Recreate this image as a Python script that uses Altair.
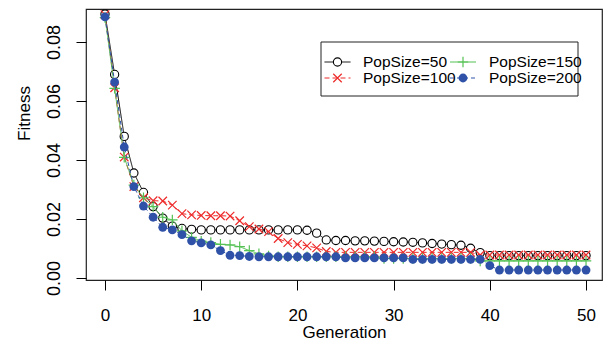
import altair as alt
import pandas as pd

# ---------------- data ----------------
generations = list(range(51))

series_names = ["PopSize=50", "PopSize=100", "PopSize=150", "PopSize=200"]

pop50 = [0.0895, 0.069, 0.048, 0.0356, 0.029, 0.0242, 0.0203, 0.0176, 0.0168, 0.0165,
         0.0163, 0.0163, 0.0163, 0.0163, 0.0163, 0.0163, 0.0163, 0.0163, 0.0163, 0.0163,
         0.0163, 0.0162, 0.0152, 0.0129, 0.0127, 0.0127, 0.0126, 0.0126, 0.0125, 0.0124,
         0.0123, 0.0122, 0.0121, 0.0119, 0.0117, 0.0115, 0.0113, 0.0111, 0.0101, 0.0086,
         0.0076, 0.0076, 0.0076, 0.0076, 0.0076, 0.0076, 0.0076, 0.0076, 0.0076, 0.0076,
         0.0076]

pop100 = [0.0893, 0.0645, 0.041, 0.031, 0.0272, 0.0262, 0.0261, 0.0247, 0.0218, 0.0214,
          0.0212, 0.0211, 0.0211, 0.021, 0.0194, 0.0174, 0.0166, 0.0157, 0.0134, 0.012,
          0.0114, 0.0109, 0.0102, 0.009, 0.0087, 0.0087, 0.0087, 0.0087, 0.0087, 0.0087,
          0.0087, 0.0087, 0.0087, 0.0087, 0.0087, 0.0087, 0.0087, 0.0087, 0.0087, 0.0078,
          0.0078, 0.0078, 0.0078, 0.0078, 0.0078, 0.0078, 0.0078, 0.0078, 0.0078, 0.0078,
          0.0078]

pop150 = [0.0883, 0.0643, 0.0409, 0.0315, 0.0272, 0.0242, 0.0206, 0.0197, 0.016, 0.0138,
          0.0125, 0.012, 0.0114, 0.0112, 0.0106, 0.0093, 0.0082, 0.0075, 0.0072, 0.0072,
          0.0072, 0.0072, 0.0072, 0.0072, 0.0072, 0.0072, 0.0072, 0.0072, 0.0072, 0.0066,
          0.0066, 0.0066, 0.0066, 0.0066, 0.0066, 0.0066, 0.0066, 0.0066, 0.0066, 0.0058,
          0.0058, 0.0058, 0.0058, 0.0058, 0.0058, 0.0058, 0.0058, 0.0058, 0.0058, 0.0058,
          0.0058]

pop200 = [0.0885, 0.0664, 0.0444, 0.031, 0.0244, 0.0206, 0.0172, 0.0163, 0.0147, 0.0126,
          0.0119, 0.0112, 0.0093, 0.0077, 0.0076, 0.0073, 0.0072, 0.0072, 0.0072, 0.0072,
          0.0072, 0.0072, 0.0072, 0.0072, 0.0072, 0.0068, 0.0068, 0.0068, 0.0068, 0.0068,
          0.0068, 0.0068, 0.0063, 0.0063, 0.0063, 0.0063, 0.0063, 0.0063, 0.0063, 0.0063,
          0.0042, 0.0027, 0.0027, 0.0027, 0.0027, 0.0027, 0.0027, 0.0027, 0.0027, 0.0027,
          0.0027]

x_ticks = [0, 10, 20, 30, 40, 50]
y_ticks = [0.0, 0.02, 0.04, 0.06, 0.08]

# ---------------- styles ----------------
FONT = "Liberation Sans"
colors = ["#000000", "#EE2A2A", "#55C255", "#2F52A8"]
dashes = [[1, 0], [5, 3], [1, 0], [4, 3]]
CROSS_X = "M-1,-1L1,1M-1,1L1,-1"
PLUS = "M-1,0L1,0M0,-1L0,1"

x_scale = alt.Scale(domain=[-1.975, 51.66], nice=False, zero=False, padding=0)
y_scale = alt.Scale(domain=[-0.00068, 0.091186], nice=False, zero=False, padding=0)

all_values = [pop50, pop100, pop150, pop200]


def series_df(i):
    return pd.DataFrame({"Generation": generations, "Fitness": all_values[i],
                         "series": series_names[i]})


x_enc = alt.X("Generation:Q", scale=x_scale,
              axis=alt.Axis(values=x_ticks, title="Generation", format="d"))
y_enc = alt.Y("Fitness:Q", scale=y_scale,
              axis=alt.Axis(values=y_ticks, title="Fitness", format=".2f"))

point_styles = [
    dict(shape="circle", filled=True, fill="white", stroke=colors[0], strokeWidth=1.1, size=68),
    dict(shape=CROSS_X, filled=False, stroke=colors[1], strokeWidth=1.2, size=72),
    dict(shape=PLUS, filled=False, stroke=colors[2], strokeWidth=1.2, size=110),
    dict(shape="circle", filled=True, fill=colors[3], strokeWidth=0, size=78),
]

layers = []
for i in range(4):
    d = series_df(i)
    line = alt.Chart(d).mark_line(color=colors[i], strokeWidth=1,
                                  strokeDash=dashes[i]).encode(x=x_enc, y=y_enc)
    pts = alt.Chart(d).mark_point(opacity=1, **point_styles[i]).encode(x=x_enc, y=y_enc)
    layers += [line, pts]

# ---------------- legend (layout in chart pixels) ----------------
leg_col_sym = [251.5, 377]
leg_col_text = [277, 403]
leg_row_y = [53, 69]
leg_half_line = 13
leg_box = dict(x=235, x2=492, y=33, y2=87)

one = pd.DataFrame({"k": [0]})

box = alt.Chart(one).mark_rect(fill="white", stroke="#222", strokeWidth=1).encode(
    x=alt.value(leg_box["x"]), x2=alt.value(leg_box["x2"]),
    y=alt.value(leg_box["y"]), y2=alt.value(leg_box["y2"]))
layers.append(box)

for i, name in enumerate(series_names):
    c = i // 2
    r = i % 2
    sx = leg_col_sym[c]
    yy = leg_row_y[r]
    seg = alt.Chart(one).mark_rule(color=colors[i], strokeWidth=1, strokeDash=dashes[i]).encode(
        x=alt.value(sx - leg_half_line), x2=alt.value(sx + leg_half_line), y=alt.value(yy))
    sym = alt.Chart(one).mark_point(opacity=1, **point_styles[i]).encode(
        x=alt.value(sx), y=alt.value(yy))
    txt = alt.Chart(one).mark_text(align="left", baseline="middle", fontSize=15.5, font=FONT,
                                   color="black").encode(
        x=alt.value(leg_col_text[c]), y=alt.value(yy), text=alt.value(name))
    layers += [seg, sym, txt]

chart = alt.layer(*layers).properties(
    width=516, height=271,
    autosize=alt.AutoSizeParams(type="none"),
    padding={"left": 78, "top": 1, "right": 1, "bottom": 60},
).configure_view(stroke="#222", strokeWidth=1.2).configure_axis(
    grid=False, domain=False, ticks=True, tickColor="black", tickSize=10, tickWidth=1,
    labelColor="black", labelFont=FONT, labelFontSize=17, titleFont=FONT,
    titleFontSize=17, titleFontWeight="normal", titleColor="black",
).configure_axisBottom(
    labelBaseline="alphabetic", labelPadding=30, titleBaseline="alphabetic", titleY=57,
).configure_axisLeft(
    labelAngle=270, labelAlign="center", labelBaseline="middle", labelPadding=22,
    labelFontSize=18,
    titleAngle=270, titleBaseline="middle", titleX=-62, titleY=104,
)

chart.save("out.html", embed_options={"renderer": "svg", "actions": False})
